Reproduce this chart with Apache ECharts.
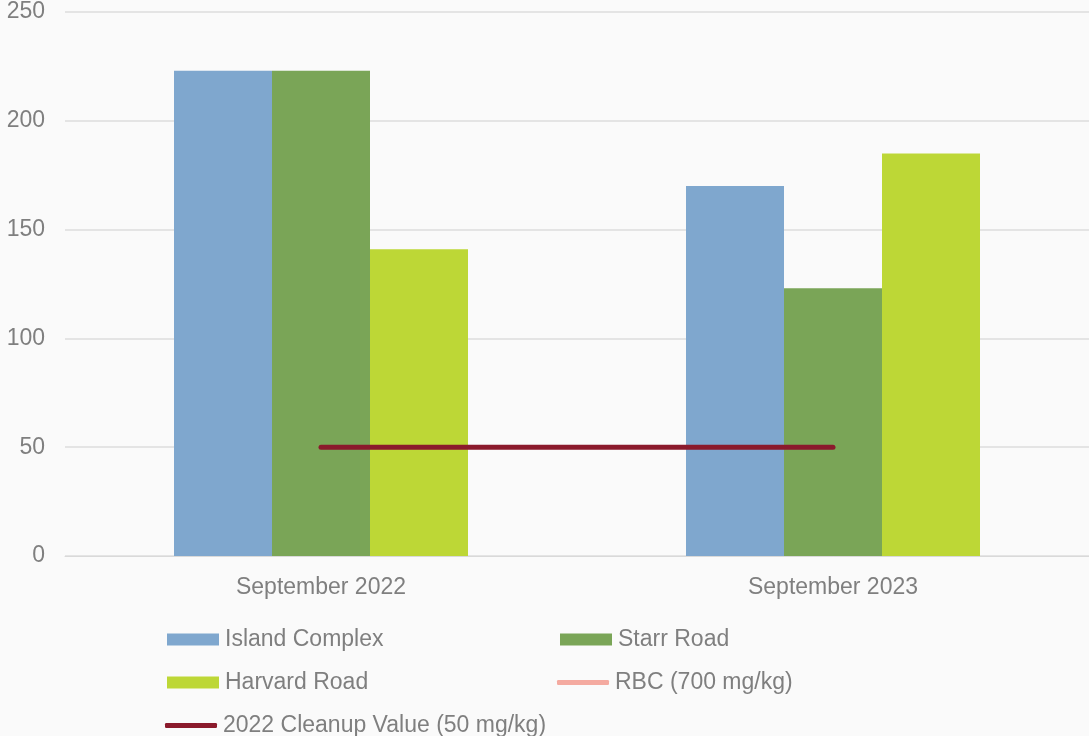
<!DOCTYPE html>
<html>
<head>
<meta charset="utf-8">
<script src="https://cdn.jsdelivr.net/npm/echarts@6/dist/echarts.min.js"></script>
<style>
html,body{margin:0;padding:0;background:#fafafa;}
#chart{width:1089px;height:736px;}
</style>
</head>
<body>
<div id="chart"></div>
<script>
const categories = ['September 2022', 'September 2023'];
const islandComplex = [223, 170];
const starrRoad = [223, 123];
const harvardRoad = [141, 185];
const rbc = [null, null];
const cleanup2022 = [50, 50];
const yTicks = [0, 50, 100, 150, 200, 250];

const FONT = 'Liberation Sans';
const FS = 23;
const TXT = '#7f7f7f';
const chart = echarts.init(document.getElementById('chart'));

function lg(name, left, centerY, icon, h) {
  return {
    data: [{name: name, icon: icon}],
    left: left, top: centerY - 14,
    itemWidth: 52, itemHeight: h,
    itemGap: 0,
    padding: 0,
    textStyle: {fontFamily: FONT, fontSize: FS, color: TXT, padding: [3, 0, 0, 1], lineHeight: 28},
    selectedMode: false
  };
}

chart.setOption({
  backgroundColor: '#fafafa',
  animation: false,
  grid: {left: 65, right: 0, top: 12, bottom: 180},
  xAxis: {
    type: 'category',
    data: categories,
    axisLine: {lineStyle: {color: '#d9d9d9', width: 1}},
    axisTick: {show: false},
    axisLabel: {fontFamily: FONT, fontSize: FS, color: TXT, margin: 20}
  },
  yAxis: {
    type: 'value',
    min: yTicks[0], max: yTicks[yTicks.length - 1], interval: 50,
    axisLine: {show: false},
    axisTick: {show: false},
    splitLine: {lineStyle: {color: '#dcdcdc', width: 1.5}},
    axisLabel: {fontFamily: FONT, fontSize: FS, color: TXT, margin: 20}
  },
  legend: [
    lg('Island Complex', 167, 638, 'rect', 12),
    lg('Starr Road', 560, 638, 'rect', 12),
    lg('Harvard Road', 167, 681, 'rect', 12),
    lg('RBC (700 mg/kg)', 557, 681, 'roundRect', 5),
    lg('2022 Cleanup Value (50 mg/kg)', 165, 724, 'roundRect', 5)
  ],
  series: [
    {name: 'Island Complex', type: 'bar', data: islandComplex, barWidth: 98, barGap: '0%',
      itemStyle: {color: '#7fa7ce'}},
    {name: 'Starr Road', type: 'bar', data: starrRoad, barWidth: 98, barGap: '0%',
      itemStyle: {color: '#7aa557'}},
    {name: 'Harvard Road', type: 'bar', data: harvardRoad, barWidth: 98, barGap: '0%',
      itemStyle: {color: '#bdd736'}},
    {name: 'RBC (700 mg/kg)', type: 'line', data: rbc, symbol: 'none',
      lineStyle: {color: '#f4aaa0', width: 5, cap: 'round'}, itemStyle: {color: '#f4aaa0'}},
    {name: '2022 Cleanup Value (50 mg/kg)', type: 'line', data: cleanup2022, symbol: 'none',
      lineStyle: {color: '#8b1a2c', width: 5, cap: 'round'}, itemStyle: {color: '#8b1a2c'}}
  ]
});
</script>
</body>
</html>
